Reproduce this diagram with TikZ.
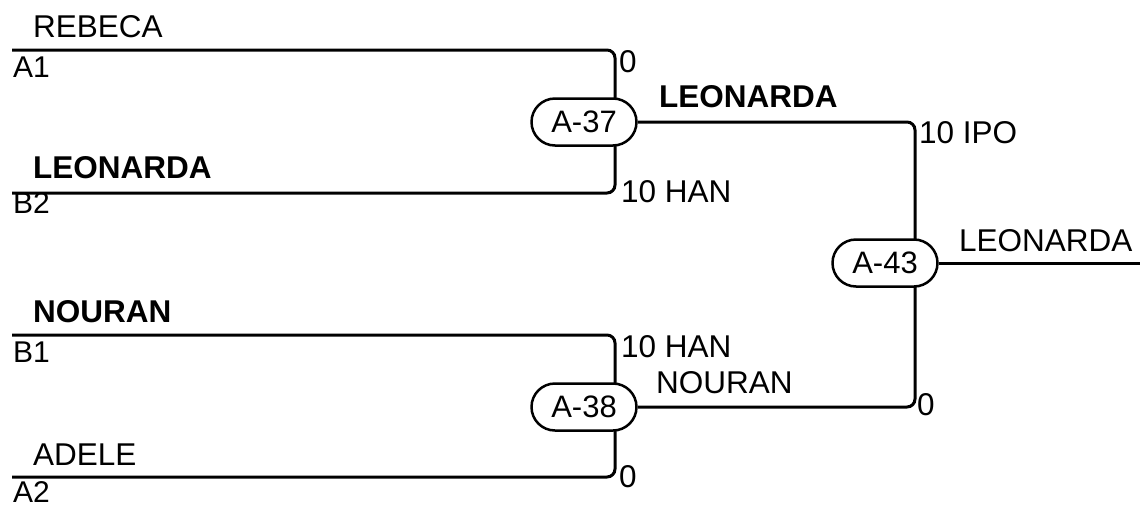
\documentclass[tikz,border=0pt]{standalone}
\usepackage{fontspec}
\setmainfont{Liberation Sans}
\usetikzlibrary{shapes.misc,calc,backgrounds}
\begin{document}
\begin{tikzpicture}[x=1pt,y=-1pt,
  conn/.style={line width=3pt,rounded corners=8pt},
  match/.style={rounded rectangle,draw,line width=2.5pt,fill=white,minimum width=105pt,minimum height=47pt,inner sep=0pt,font=\fontsize{31}{36}\selectfont},
  lbl/.style={anchor=base west,inner sep=0pt,font=\fontsize{31.5}{36}\selectfont},
  blbl/.style={anchor=base west,inner sep=0pt,font=\fontsize{31.5}{36}\selectfont\bfseries},
  seed/.style={anchor=base west,inner sep=0pt,font=\fontsize{30}{34}\selectfont}]
\useasboundingbox (0,0) rectangle (1140,504);
% match nodes
\node[match] (n37) at (584,122) {A-37};
\node[match] (n38) at (584,407) {A-38};
\node[match] (n43) at (885,263) {A-43};
% free ends
\coordinate (a1) at (12,50);
\coordinate (b2) at (12,193);
\coordinate (b1) at (12,335);
\coordinate (a2) at (12,477);
\coordinate (fin) at (1140,263);
\begin{scope}[on background layer]
\draw[conn] (a1) -| ($(n37.center)+(31,0)$);
\draw[conn] (b2) -| ($(n37.center)+(31,0)$);
\draw[conn] (b1) -| ($(n38.center)+(31,0)$);
\draw[conn] (a2) -| ($(n38.center)+(31,0)$);
\draw[conn] (n37.east) -| ($(n43.center)+(30,0)$);
\draw[conn] (n38.east) -| ($(n43.center)+(30,0)$);
\draw[conn] (n43.east) -- (fin);
\end{scope}
% texts
\node[lbl] (t1) at (33,37) {REBECA};
\node[seed] (s1) at (13,77) {A1};
\node[blbl] (t2) at (33,178) {LEONARDA};
\node[seed] (s2) at (13,213) {B2};
\node[blbl] (t3) at (33,322) {NOURAN};
\node[seed] (s3) at (13,362) {B1};
\node[lbl] (t4) at (33,465) {ADELE};
\node[seed] (s4) at (13,502) {A2};
\node[lbl] (r1) at (619,72) {0};
\node[lbl] (r2) at (621,202) {10 HAN};
\node[blbl] (w1) at (659,107) {LEONARDA};
\node[lbl] (r3) at (621,357) {10 HAN};
\node[lbl] (w2) at (656,393) {NOURAN};
\node[lbl] (r4) at (619,487) {0};
\node[lbl] (r5) at (919,143) {10 IPO};
\node[lbl] (r6) at (917,415) {0};
\node[lbl] (w3) at (959,251) {LEONARDA};
\end{tikzpicture}
\end{document}
